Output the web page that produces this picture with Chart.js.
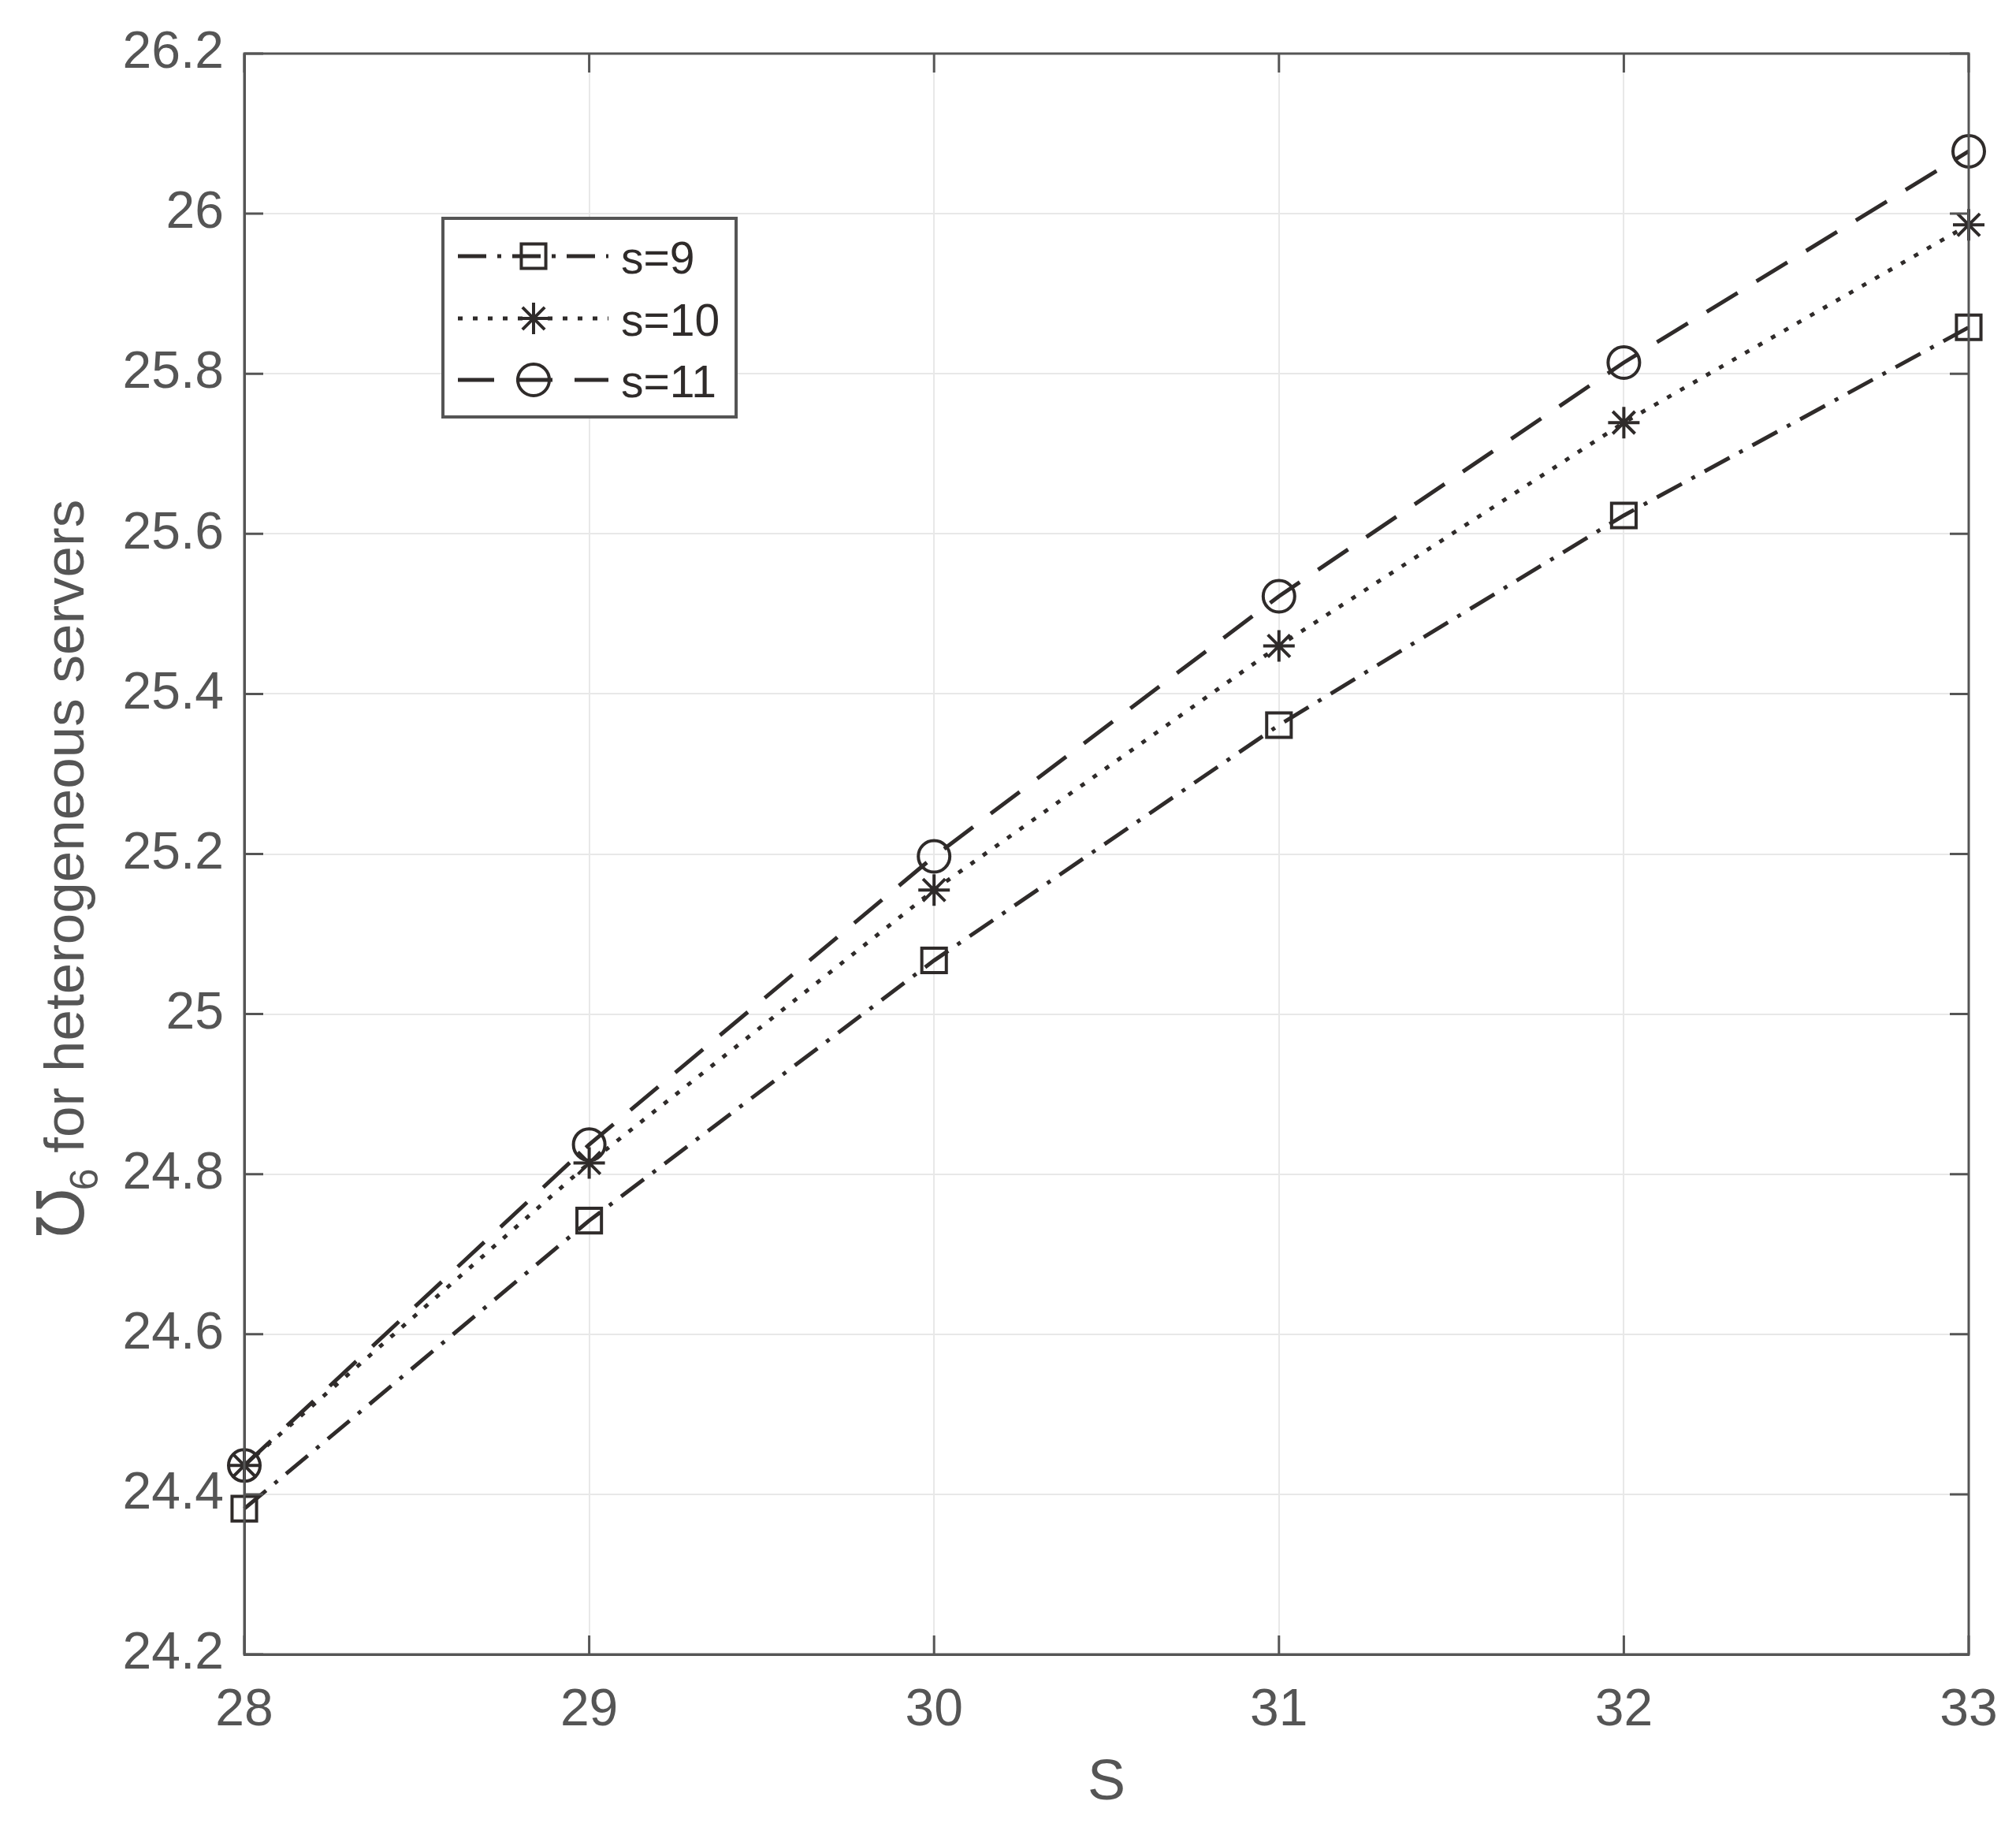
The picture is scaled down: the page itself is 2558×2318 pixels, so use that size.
<!DOCTYPE html>
<html lang="en">
<head>
  <meta charset="UTF-8">
  <title>Heterogeneous servers</title>
  <script src="https://cdn.jsdelivr.net/npm/chart.js"></script>
  <style>
    html, body {
      margin: 0;
      padding: 0;
      background: #fff;
    }
    canvas {
      display: block;
    }
  </style>
</head>
<body>
  <canvas id="plot" width="2558" height="2318"></canvas>

  <script>
    // data
    const bigS = [28, 29, 30, 31, 32, 33];
    const s9 = [24.382, 24.742, 25.067, 25.361, 25.623, 25.858];
    const s10 = [24.436, 24.814, 25.155, 25.460, 25.739, 25.986];
    const s11 = [24.436, 24.837, 25.197, 25.522, 25.814, 26.078];
    const yTicks = [24.2, 24.4, 24.6, 24.8, 25, 25.2, 25.4, 25.6, 25.8, 26, 26.2];
    const xTicks = [28, 29, 30, 31, 32, 33];
    const seriesNames = ["s=9", "s=10", "s=11"];

    const ink = "#2f2b2a";
    const axisGray = "#555";
    const font = "'Liberation Sans', Arial, sans-serif";

    function pts(ys) {
      return bigS.map((x, i) => ({ x: x, y: ys[i] }));
    }

    function series(label, ys, dash, style, r) {
      return {
        label: label,
        data: pts(ys),
        borderColor: ink,
        borderWidth: 5,
        borderDash: dash,
        borderCapStyle: "butt",
        pointStyle: style,
        pointRadius: r,
        pointHoverRadius: r,
        pointBorderWidth: 4,
        pointBorderColor: ink,
        pointBackgroundColor: "rgba(0,0,0,0)",
        tension: 0,
        fill: false,
        clip: false
      };
    }

    // inner tick marks + top/right frame, matlab style
    const frame = {
      id: "frame",
      afterDraw(chart) {
        const { ctx, chartArea: a } = chart;
        const len = 24;
        ctx.save();
        ctx.strokeStyle = axisGray;
        ctx.lineWidth = 3;
        ctx.beginPath();
        xTicks.forEach(v => {
          const x = chart.scales.x.getPixelForValue(v);
          ctx.moveTo(x, a.bottom); ctx.lineTo(x, a.bottom - len);
          ctx.moveTo(x, a.top); ctx.lineTo(x, a.top + len);
        });
        yTicks.forEach(v => {
          const y = chart.scales.y.getPixelForValue(v);
          ctx.moveTo(a.left, y); ctx.lineTo(a.left + len, y);
          ctx.moveTo(a.right, y); ctx.lineTo(a.right - len, y);
        });
        ctx.stroke();
        ctx.strokeRect(a.left, a.top, a.right - a.left, a.bottom - a.top);
        ctx.restore();
      }
    };

    // axis titles (y title needs the subscript)
    const titles = {
      id: "titles",
      afterDraw(chart) {
        const ctx = chart.ctx;
        ctx.save();
        ctx.fillStyle = axisGray;
        ctx.textBaseline = "alphabetic";

        ctx.font = "72px " + font;
        ctx.textAlign = "center";
        ctx.fillText("S", 1404, 2283);

        const big = "84px " + font, sub = "50px " + font, body = "71px " + font;
        const parts = [["\u2127", big, 0], ["6", sub, 18], [" for heterogeneous servers", body, 0]];
        let w = 0;
        parts.forEach(p => { ctx.font = p[1]; w += ctx.measureText(p[0]).width; });
        ctx.translate(106, 1104);
        ctx.rotate(-Math.PI / 2);
        ctx.textAlign = "left";
        let x = -w / 2;
        parts.forEach(p => {
          ctx.font = p[1];
          ctx.fillText(p[0], x, p[2]);
          x += ctx.measureText(p[0]).width;
        });
        ctx.restore();
      }
    };

    // boxed legend with line sample and marker
    const legendBox = {
      id: "legendBox",
      afterDraw(chart) {
        const ctx = chart.ctx;
        const box = { l: 562, t: 277, r: 934, b: 529 };
        const rows = [325, 404, 482];
        ctx.save();
        ctx.fillStyle = "#fff";
        ctx.fillRect(box.l, box.t, box.r - box.l, box.b - box.t);
        ctx.strokeStyle = axisGray;
        ctx.lineWidth = 4;
        ctx.strokeRect(box.l, box.t, box.r - box.l, box.b - box.t);

        chart.data.datasets.forEach((ds, i) => {
          const y = rows[i];
          ctx.strokeStyle = ds.borderColor;
          ctx.lineWidth = ds.borderWidth;
          ctx.setLineDash(ds.borderDash);
          ctx.lineCap = "butt";
          ctx.beginPath();
          ctx.moveTo(581, y);
          ctx.lineTo(772, y);
          ctx.stroke();
          ctx.setLineDash([]);
          ctx.lineWidth = ds.pointBorderWidth;
          ctx.fillStyle = "rgba(0,0,0,0)";
          Chart.helpers.drawPoint(ctx, {
            pointStyle: ds.pointStyle,
            radius: ds.pointRadius,
            rotation: 0,
            borderWidth: ds.pointBorderWidth
          }, 677, y);

          ctx.fillStyle = ink;
          ctx.font = "57px " + font;
          ctx.textAlign = "left";
          ctx.textBaseline = "middle";
          ctx.fillText(seriesNames[i], 788, y + 6);
        });
        ctx.restore();
      }
    };

    const chart = new Chart(document.getElementById("plot"), {
      type: "line",
      data: {
        datasets: [
          series(seriesNames[0], s9, [36, 14, 5, 14], "rect", 22),
          series(seriesNames[1], s10, [6, 13], "star", 20),
          series(seriesNames[2], s11, [46, 28], "circle", 20)
        ]
      },
      options: {
        responsive: false,
        animation: false,
        devicePixelRatio: 1,
        layout: { padding: { left: 0, top: 68, right: 60, bottom: 0 } },
        plugins: {
          legend: { display: false },
          tooltip: { enabled: false }
        },
        scales: {
          x: {
            type: "linear",
            min: 28,
            max: 33,
            afterFit(s) { s.height = 219; s.paddingLeft = 0; s.paddingRight = 0; },
            afterBuildTicks(s) { s.ticks = xTicks.map(v => ({ value: v })); },
            grid: { color: "#e8e8e8", lineWidth: 2, drawTicks: false },
            border: { display: true, color: axisGray, width: 3 },
            ticks: {
              color: axisGray,
              padding: 32,
              font: { family: font, size: 66 },
              maxRotation: 0
            }
          },
          y: {
            type: "linear",
            min: 24.2,
            max: 26.2,
            afterFit(s) { s.width = 310; s.paddingTop = 0; s.paddingBottom = 0; },
            afterBuildTicks(s) { s.ticks = yTicks.map(v => ({ value: v })); },
            grid: { color: "#e8e8e8", lineWidth: 2, drawTicks: false },
            border: { display: true, color: axisGray, width: 3 },
            ticks: {
              color: axisGray,
              padding: 26,
              font: { family: font, size: 66 },
              callback: v => String(+v.toFixed(1))
            }
          }
        }
      },
      plugins: [frame, titles, legendBox]
    });
  </script>
</body>
</html>
